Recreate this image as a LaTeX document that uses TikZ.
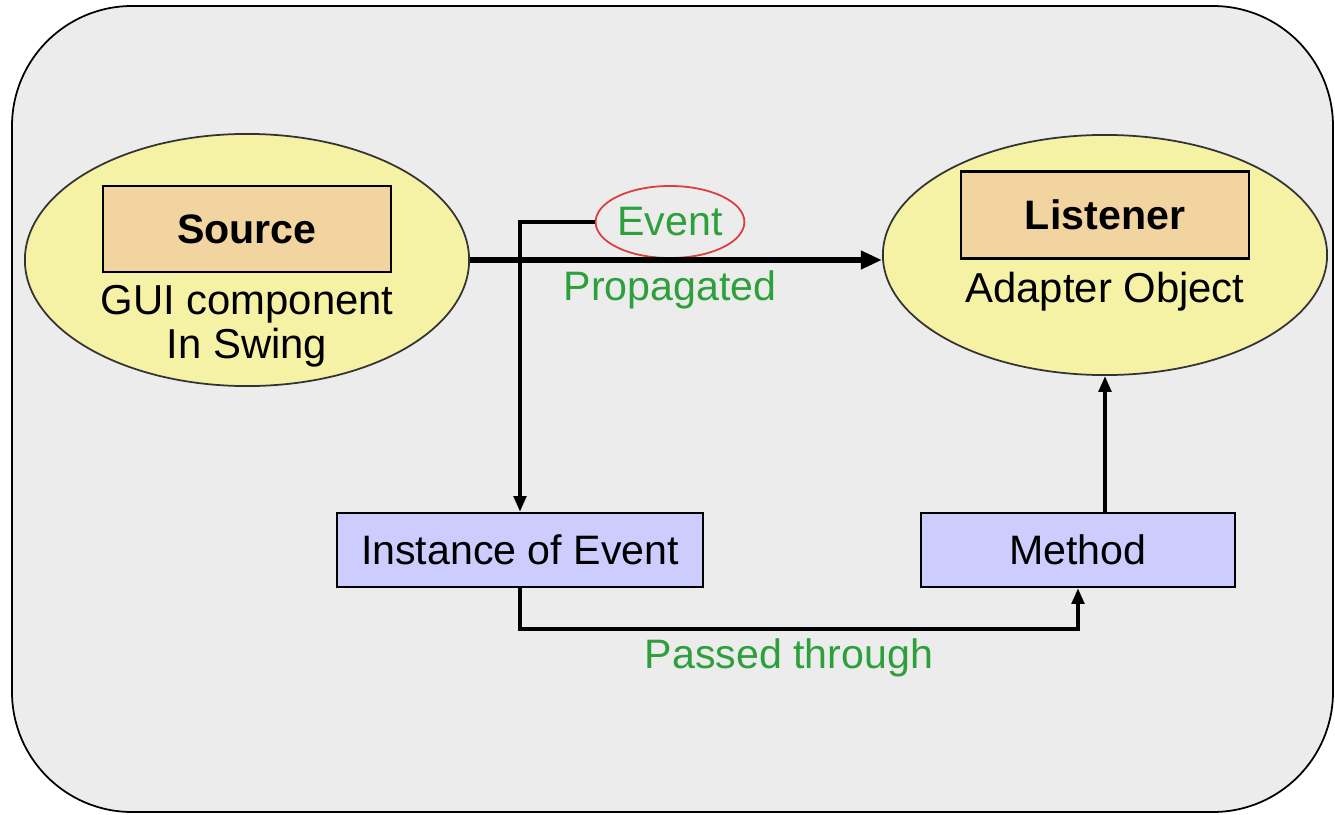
\documentclass[tikz,border=0pt]{standalone}
\usepackage{fontspec}
\setmainfont{Liberation Sans}
\usepackage{xcolor}
\usepackage{tikz}
\usetikzlibrary{shapes.geometric,arrows.meta}

\definecolor{bggray}{RGB}{236,236,236}
\definecolor{ellyellow}{RGB}{245,241,165}
\definecolor{boxtan}{RGB}{242,212,160}
\definecolor{boxlav}{RGB}{204,204,255}
\definecolor{txtgreen}{RGB}{45,160,60}
\definecolor{evred}{RGB}{220,60,60}

\begin{document}
\begin{tikzpicture}[x=0.01cm,y=-0.01cm,
        myobject/.style={draw=black!80,ellipse,fill=ellyellow,line width=0.5pt},
        myname/.style={draw,fill=boxtan,line width=0.6pt,inner sep=0pt,font=\fontsize{11.7}{14}\selectfont\bfseries},
        mystep/.style={draw,fill=boxlav,line width=0.6pt,inner sep=0pt,font=\fontsize{11.7}{14}\selectfont},
        mytext/.style={font=\fontsize{11.9}{12.4}\selectfont,align=center},
        mygreen/.style={text=txtgreen,font=\fontsize{11.7}{14}\selectfont},
        mylink/.style={-{Triangle[length=4.5pt,width=3.5pt]},line width=1.1pt}]

        \useasboundingbox (0,0) rectangle (1335,815);

        %background
        \draw [fill=bggray,line width=0.5pt,rounded corners=1.2cm] (12,6) rectangle (1333,812);

        %objects
        \node[myobject,minimum width=4.44cm,minimum height=2.52cm] (S) at (247,260) {};
        \node[myobject,minimum width=4.44cm,minimum height=2.40cm] (L) at (1105,255) {};
        \node[myname,minimum width=2.88cm,minimum height=0.86cm] (SN) at (247,229) {Source};
        \node[myname,minimum width=2.87cm,minimum height=0.87cm] (LN) at (1105,215) {Listener};
        \node[mytext] (ST) at (247,326) {GUI component\\In Swing};
        \node[mytext] (LT) at (1105,292) {Adapter Object};

        %event
        \node[mygreen,draw=evred,ellipse,line width=0.5pt,minimum width=1.46cm,minimum height=0.72cm,inner sep=0pt] (E) at (670,222) {Event};
        \node[mygreen] (P) at (670,290) {Propagated};

        %steps
        \node[mystep,minimum width=3.66cm,minimum height=0.74cm] (I) at (520,550) {Instance of Event};
        \node[mystep,minimum width=3.14cm,minimum height=0.74cm] (M) at (1078,550) {Method};
        \node[mygreen] (T) at (789,658) {Passed through};

        %horizontal arrow
        \draw [-{Triangle[length=6pt,width=5pt]}, line width=1.6pt] (S.east) -- (S.east -| L.west);

        %event arrow
        \draw [mylink] (E.west) -| (I.north);

        %passed arrow
        \draw [mylink] (I.south) -- ++(0,41) -| (M.south);

        %vertical arrow
        \draw [mylink] (L.south |- M.north) -- (L.south);
\end{tikzpicture}
\end{document}
